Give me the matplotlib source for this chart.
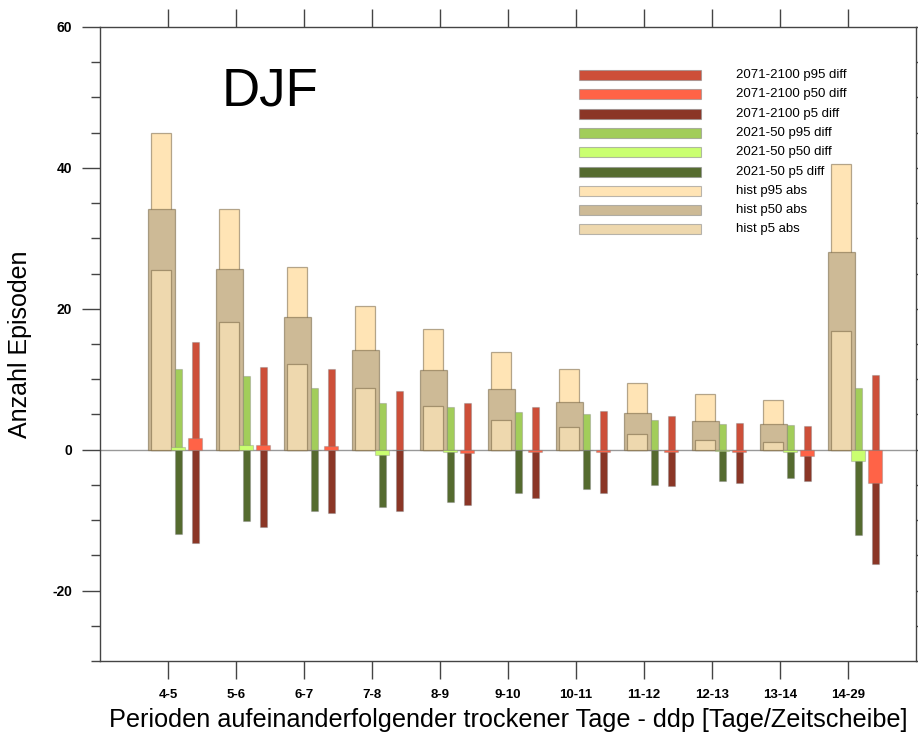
import numpy as np
import matplotlib.pyplot as plt
from matplotlib.patches import Rectangle

plt.rcParams['font.family'] = ['Liberation Sans', 'DejaVu Sans']
plt.rcParams['axes.unicode_minus'] = False

# categories (dry spell length classes)
categories = ['4-5', '5-6', '6-7', '7-8', '8-9', '9-10', '10-11', '11-12', '12-13', '13-14', '14-29']

# historical absolute values
hist_p95 = [44.9, 34.2, 25.9, 20.4, 17.1, 13.85, 11.4, 9.5, 7.95, 7.05, 40.6]
hist_p50 = [34.2, 25.6, 18.8, 14.1, 11.3, 8.6, 6.8, 5.25, 4.1, 3.6, 28.1]
hist_p5 = [25.5, 18.1, 12.2, 8.8, 6.2, 4.2, 3.2, 2.2, 1.35, 1.05, 16.9]

# 2021-50 differences
near_p95 = [11.5, 10.5, 8.7, 6.65, 6.05, 5.3, 5.05, 4.2, 3.6, 3.5, 8.8]
near_p50 = [0.4, 0.6, -0.1, -0.7, -0.4, -0.1, -0.1, -0.1, -0.15, -0.3, -1.65]
near_p5 = [-12.0, -10.1, -8.7, -8.1, -7.4, -6.2, -5.6, -5.0, -4.5, -4.05, -12.1]

# 2071-2100 differences
far_p95 = [15.3, 11.8, 11.4, 8.3, 6.6, 6.05, 5.55, 4.85, 3.75, 3.35, 10.65]
far_p50 = [1.6, 0.7, 0.5, -0.1, -0.5, -0.3, -0.4, -0.4, -0.4, -0.9, -4.7]
far_p5 = [-13.2, -11.0, -9.0, -8.76, -7.8, -6.8, -6.15, -5.2, -4.7, -4.5, -16.2]

# colours
c_far95, c_far50, c_far5 = '#CD4F39', '#FF6347', '#8B3626'
c_near95, c_near50, c_near5 = '#A2CD5A', '#CAFF70', '#556B2F'
c_h95, c_h50, c_h5 = '#FFE4B5', '#CDBA96', '#EED8AE'

x = np.arange(1, len(categories) + 1)

fig = plt.figure(figsize=(9.18, 7.36), dpi=100)
ax = fig.add_axes([100 / 918, 75 / 736, 816 / 918, 634 / 736])

hist_edge = (0.42, 0.35, 0.22, 0.5)
diff_edge = (0.5, 0.5, 0.5, 0.35)

ax.axhline(0, color='#999999', lw=1.0, zorder=1)

# historical bars
ax.bar(x - 0.1, hist_p95, width=0.3, color=c_h95, edgecolor=hist_edge, lw=0.9, zorder=2)
ax.bar(x - 0.1, hist_p50, width=0.4, color=c_h50, edgecolor=hist_edge, lw=0.9, zorder=3)
ax.bar(x - 0.1, hist_p5, width=0.3, color=c_h5, edgecolor=hist_edge, lw=0.9, zorder=4)

# 2021-50 bars
ax.bar(x + 0.15, near_p95, width=0.1, color=c_near95, edgecolor=diff_edge, lw=0.8, zorder=5)
ax.bar(x + 0.15, near_p5, width=0.1, color=c_near5, edgecolor=diff_edge, lw=0.8, zorder=5)
ax.bar(x + 0.15, near_p50, width=0.2, color=c_near50, edgecolor=diff_edge, lw=0.8, zorder=6)

# 2071-2100 bars
ax.bar(x + 0.4, far_p95, width=0.1, color=c_far95, edgecolor=diff_edge, lw=0.8, zorder=5)
ax.bar(x + 0.4, far_p5, width=0.1, color=c_far5, edgecolor=diff_edge, lw=0.8, zorder=5)
ax.bar(x + 0.4, far_p50, width=0.2, color=c_far50, edgecolor=diff_edge, lw=0.8, zorder=6)

ax.set_xlim(0, 12)
ax.set_ylim(-30, 60)
ax.set_xticks(x)
ax.set_xticklabels(categories, fontsize=9.5, fontweight='bold')
ax.set_yticks([-20, 0, 20, 40, 60])
ax.set_yticks(np.arange(-30, 61, 5), minor=True)
ax.tick_params(axis='y', labelsize=10, pad=7)
for lab in ax.get_yticklabels():
    lab.set_fontweight('bold')
ax.tick_params(axis='both', which='major', direction='out', length=13, width=1,
               color='#444444', top=True, right=True)
ax.tick_params(axis='y', which='minor', direction='out', length=6.5, width=1,
               color='#444444', right=True)
ax.tick_params(axis='x', which='major', pad=7)
for s in ax.spines.values():
    s.set_color('#444444')
    s.set_linewidth(1)

ax.set_ylabel('Anzahl Episoden', fontsize=18)
ax.yaxis.set_label_coords(-0.083, 0.5)
ax.set_xlabel('Perioden aufeinanderfolgender trockener Tage - ddp [Tage/Zeitscheibe]', fontsize=18.2)
ax.xaxis.set_label_coords(0.5, -0.074)

ax.text(0.1485, 0.8754, 'DJF', transform=ax.transAxes, fontsize=38, va='baseline', ha='left')

# legend drawn by hand
leg_labels = ['2071-2100 p95 diff', '2071-2100 p50 diff', '2071-2100 p5 diff',
              '2021-50 p95 diff', '2021-50 p50 diff', '2021-50 p5 diff',
              'hist p95 abs', 'hist p50 abs', 'hist p5 abs']
leg_colors = [c_far95, c_far50, c_far5, c_near95, c_near50, c_near5, c_h95, c_h50, c_h5]
x0 = (579 - 100) / 816
w = 122 / 816
h = 10 / 634
tx = (736 - 100) / 816
for i, (lab, col) in enumerate(zip(leg_labels, leg_colors)):
    yc = (661 - 75 - 19.3 * i) / 634
    ax.add_patch(Rectangle((x0, yc - h / 2), w, h, transform=ax.transAxes,
                           facecolor=col, edgecolor=(0.55, 0.55, 0.55, 0.6), lw=0.8,
                           zorder=10))
    ax.text(tx, yc, lab, transform=ax.transAxes, fontsize=9.5, va='center', ha='left',
            zorder=10)

fig.savefig('out.png', dpi=100)
